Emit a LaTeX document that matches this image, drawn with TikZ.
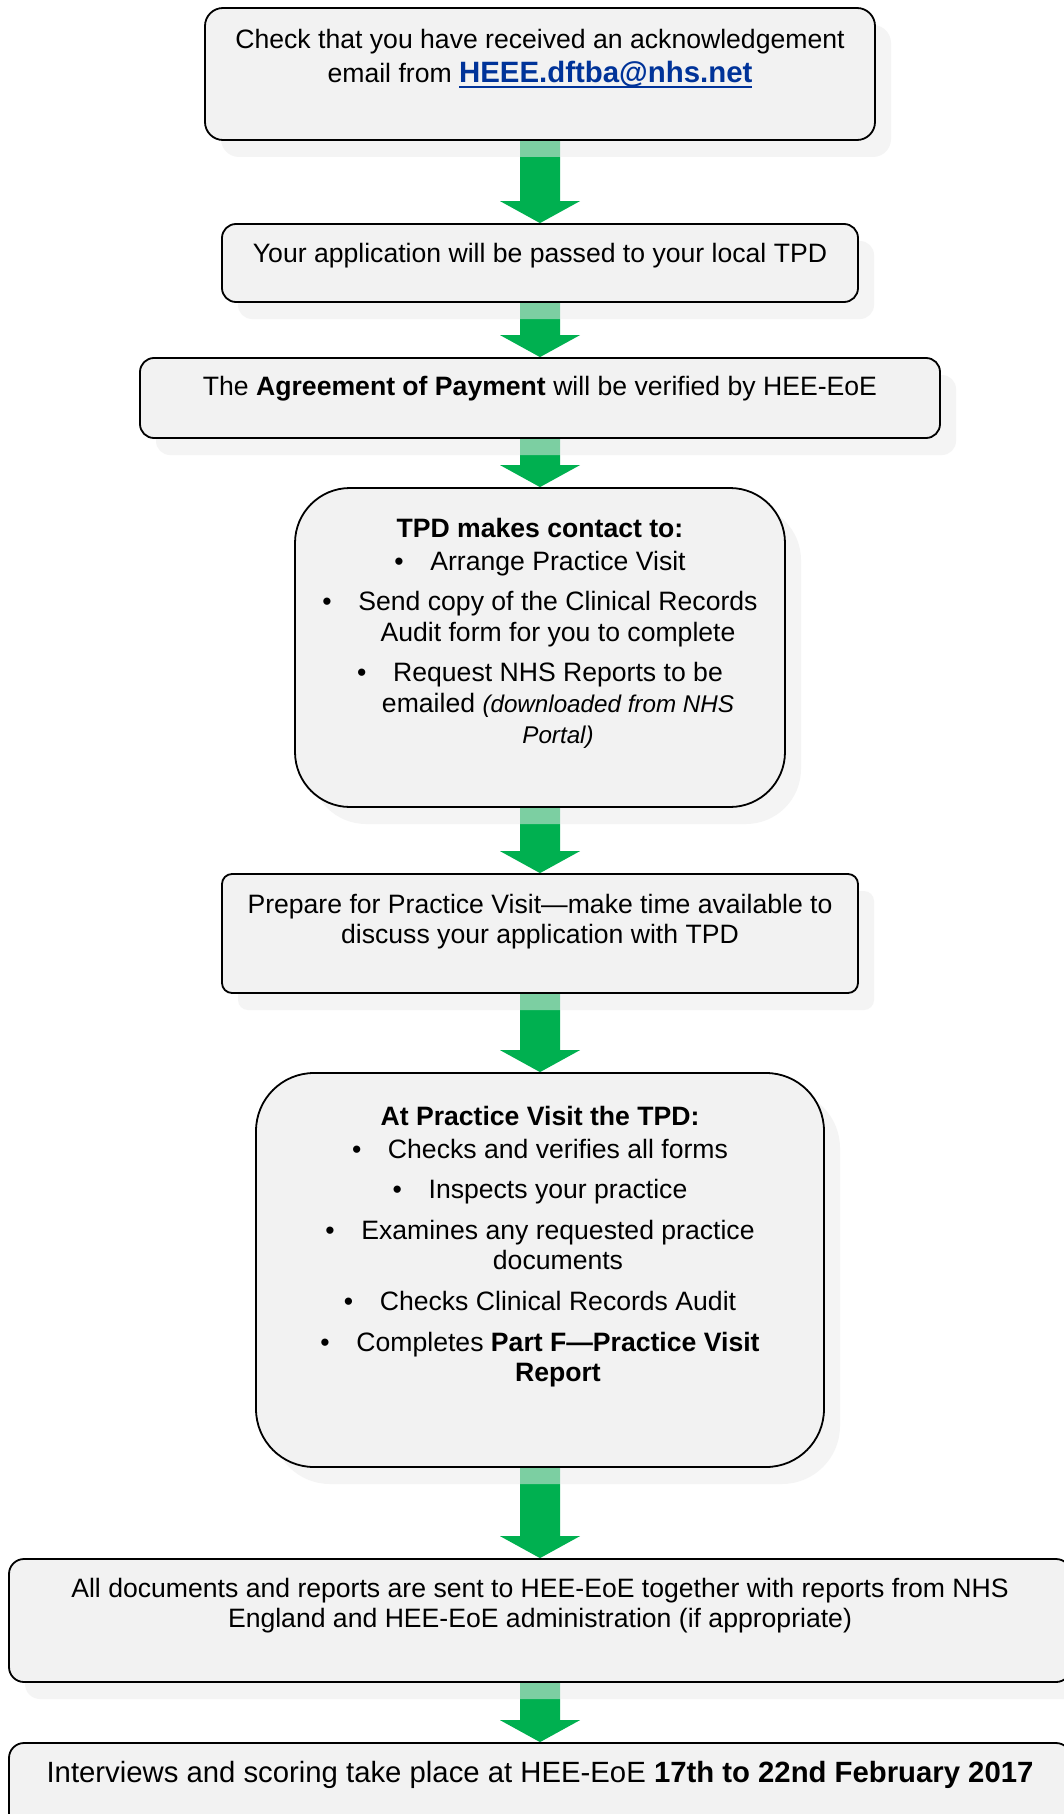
\documentclass[tikz,border=0pt]{standalone}
\usepackage{fontspec}
\setmainfont{Liberation Sans}
\usetikzlibrary{calc,shadows}
\definecolor{boxfill}{HTML}{F2F2F2}
\definecolor{agreen}{HTML}{00B050}
\definecolor{linkblue}{HTML}{003399}
\definecolor{shadowc}{HTML}{ECECEC}
\pgfdeclarelayer{background}
\pgfsetlayers{background,main}
\newcommand\bl{\makebox[36pt][l]{•}}
\newcommand\cont{\hspace*{36pt}}
\newcommand\smallit[1]{{\fontsize{24.2}{30.6}\selectfont\itshape #1}}
\newcommand\ulink[1]{\setbox0\hbox{#1}\rlap{\rule[-5pt]{\wd0}{2.4pt}}\box0}
\newcommand\blockarrow[2]{%
  \fill[agreen] ($(#1.south)+(-20,-3)$) -- ($(#2.north)+(-20,-22)$) -- ($(#2.north)+(-40,-22)$)
    -- (#2.north) -- ($(#2.north)+(40,-22)$) -- ($(#2.north)+(20,-22)$)
    -- ($(#1.south)+(20,-3)$) -- cycle;}
\begin{document}
\begin{tikzpicture}[x=1pt,y=-1pt,
  box/.style={draw=black, line width=1.8pt, fill=boxfill, inner sep=0pt,
    drop shadow={shadow xshift=16pt, shadow yshift=-17pt, fill=shadowc, opacity=0.53}},
  txt/.style={anchor=base, inner sep=0pt, font=\fontsize{26.6}{30.6}\selectfont}]
\useasboundingbox (0,0) rectangle (1064,1814);
\clip (0,0) rectangle (1064,1814);

% boxes
\node[box, rounded corners=18pt, minimum width=670, minimum height=132] (b1) at (540,74) {};
\node[box, rounded corners=14pt, minimum width=636, minimum height=78] (b2) at (540,263) {};
\node[box, rounded corners=14pt, minimum width=800, minimum height=80] (b3) at (540,398) {};
\node[box, rounded corners=55pt, minimum width=490, minimum height=319] (b4) at (540,647.5) {};
\node[box, rounded corners=10pt, minimum width=636, minimum height=119] (b5) at (540,933.5) {};
\node[box, rounded corners=58pt, minimum width=568, minimum height=394] (b6) at (540,1270) {};
\node[box, rounded corners=15pt, minimum width=1062, minimum height=123] (b7) at (540,1620.5) {};
\node[box, rounded corners=15pt, minimum width=1062, minimum height=157] (b8) at (540,1821.5) {};

% texts
\node[txt] (t1) at (540,49) {\begin{tabular}[t]{@{}c@{}}
Check that you have received an acknowledgement\\[3.4pt]
email from {\fontsize{29.4}{33.8}\selectfont\bfseries\color{linkblue}\ulink{HEEE.dftba@nhs.net}}
\end{tabular}};
\node[txt] (t2) at (540,262) {Your application will be passed to your local TPD};
\node[txt] (t3) at (540,395) {The \textbf{Agreement of Payment} will be verified by HEE-EoE};
\node[txt] (t4) at (540,537) {\begin{tabular}[t]{@{}c@{}}
\textbf{TPD makes contact to:}\\[2.4pt]
\bl Arrange Practice Visit\\[10pt]
\bl Send copy of the Clinical Records\\
\cont Audit form for you to complete\\[10pt]
\bl Request NHS Reports to be\\
\cont emailed \smallit{(downloaded from NHS}\\
\cont\smallit{Portal)}
\end{tabular}};
\node[txt] (t5) at (540,913) {\begin{tabular}[t]{@{}c@{}}
Prepare for Practice Visit—make time available to\\
discuss your application with TPD
\end{tabular}};
\node[txt] (t6) at (540,1125) {\begin{tabular}[t]{@{}c@{}}
\textbf{At Practice Visit the TPD:}\\[2.4pt]
\bl Checks and verifies all forms\\[10pt]
\bl Inspects your practice\\[10pt]
\bl Examines any requested practice\\
\cont documents\\[10pt]
\bl Checks Clinical Records Audit\\[10pt]
\bl Completes \textbf{Part F—Practice Visit}\\
\cont\textbf{Report}
\end{tabular}};
\node[txt] (t7) at (540,1597) {\begin{tabular}[t]{@{}c@{}}
All documents and reports are sent to HEE-EoE together with reports from NHS\\
England and HEE-EoE administration (if appropriate)
\end{tabular}};
\node[txt, font=\fontsize{29.3}{33.7}\selectfont] (t8) at (540,1782)
  {Interviews and scoring take place at HEE-EoE \textbf{17th to 22nd February 2017}};

% arrows behind shadows
\begin{pgfonlayer}{background}
\fill[white] (0,0) rectangle (1064,1814);
\blockarrow{b1}{b2}
\blockarrow{b2}{b3}
\blockarrow{b3}{b4}
\blockarrow{b4}{b5}
\blockarrow{b5}{b6}
\blockarrow{b6}{b7}
\blockarrow{b7}{b8}
\end{pgfonlayer}
\end{tikzpicture}
\end{document}
